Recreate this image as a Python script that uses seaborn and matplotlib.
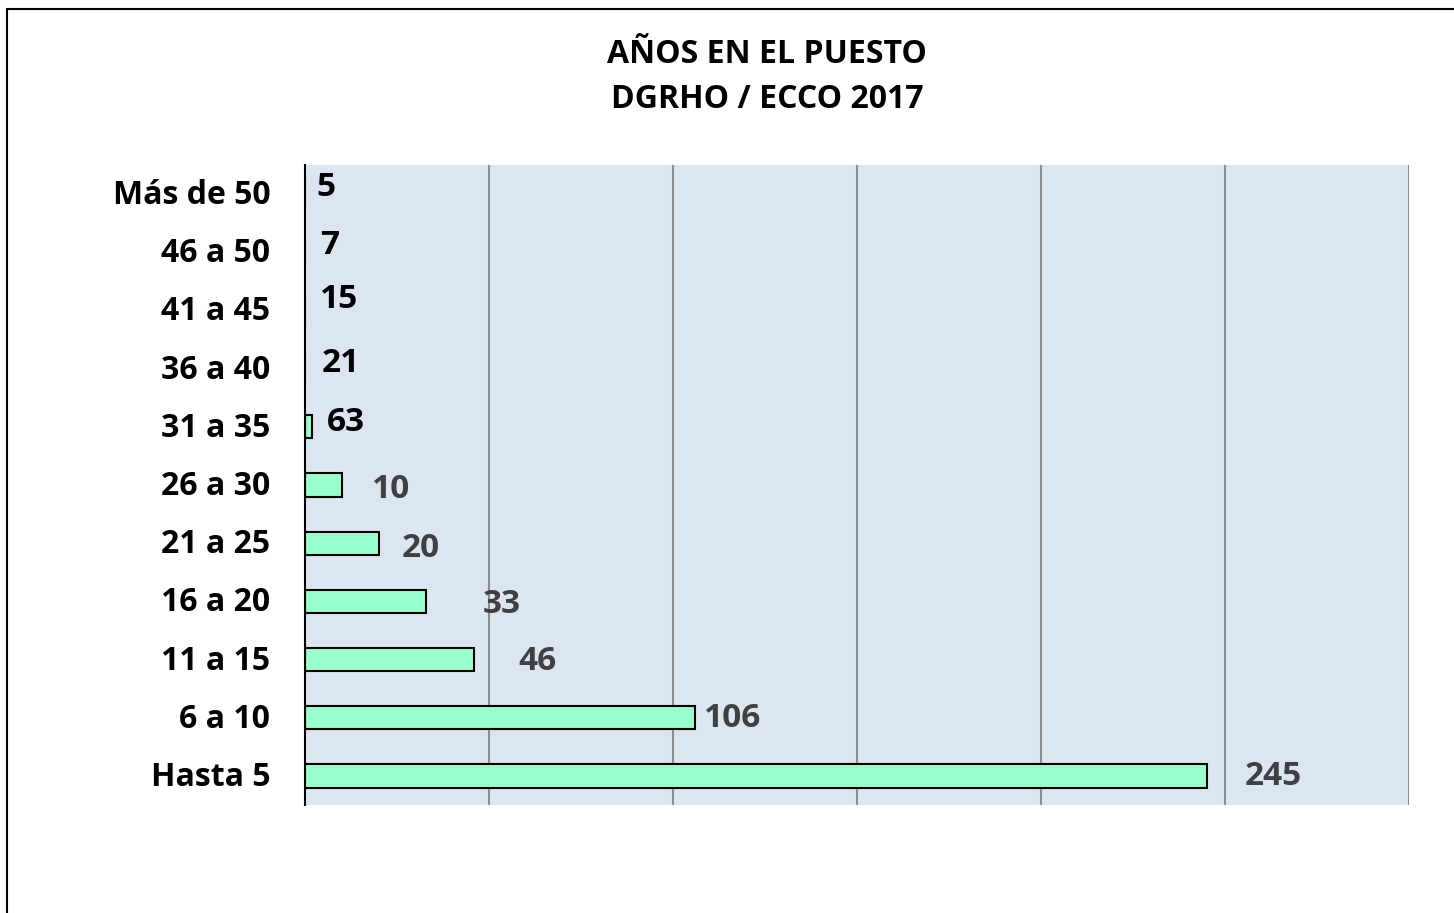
import matplotlib
matplotlib.use("Agg")
import matplotlib.pyplot as plt
import matplotlib.transforms as mtransforms
import seaborn as sns
import pandas as pd
from matplotlib.patches import Rectangle

categories = ["Más de 50", "46 a 50", "41 a 45", "36 a 40", "31 a 35", "26 a 30",
              "21 a 25", "16 a 20", "11 a 15", "6 a 10", "Hasta 5"]
bar_values = [0, 0, 0, 0, 2, 10, 20, 33, 46, 106, 245]
label_texts = ["5", "7", "15", "21", "63", "10", "20", "33", "46", "106", "245"]

# label placement tweaks (data units), kept separate from the data
label_dx = [3.0, 4.1, 4.1, 4.6, 4.0, 8.2, 6.4, 15.4, 11.9, 2.4, 10.4]
label_dy = [-0.11, -0.12, -0.19, -0.09, -0.07, 0.07, 0.09, 0.06, 0.04, 0.01, 0.01]
label_colors = ["black"] * 5 + ["#404040"] * 6

sns.set_theme(style="white")
plt.rcParams["font.family"] = ["Open Sans", "DejaVu Sans"]

df = pd.DataFrame({"cat": categories, "val": bar_values})

fig = plt.figure(figsize=(14.54, 9.13), dpi=100)
ax = fig.add_axes([305 / 1454, 1 - 805 / 913, (1409 - 305) / 1454, 640 / 913])
ax.set_facecolor("#DCE6F2")

sns.barplot(data=df, x="val", y="cat", orient="h", order=categories,
            color="#99FFCC", saturation=1, edgecolor="black", linewidth=1.5,
            width=0.4, ax=ax)

ax.set_xlim(0, 300)
ax.set_ylim(10.5, -0.5)
ax.set_xticks([50, 100, 150, 200, 250, 300])
ax.set_xticklabels([])
ax.tick_params(axis="x", length=0)
ax.tick_params(axis="y", length=0, pad=25)
ax.grid(axis="x", color="#8C8C8C", linewidth=1.5)
ax.grid(axis="y", visible=False)
ax.set_axisbelow(True)
ax.set_xlabel("")
ax.set_ylabel("")
for s in ["top", "right", "bottom"]:
    ax.spines[s].set_visible(False)
ax.spines["left"].set_color("black")
ax.spines["left"].set_linewidth(1.5)

shift_up = mtransforms.ScaledTranslation(0, 2.5 / 100, fig.dpi_scale_trans)
for lbl in ax.get_yticklabels():
    lbl.set_fontsize(23)
    lbl.set_fontweight("bold")
    lbl.set_color("black")
    lbl.set_transform(lbl.get_transform() + shift_up)

for i, (v, t) in enumerate(zip(bar_values, label_texts)):
    ax.text(v + label_dx[i], i + label_dy[i], t, ha="left", va="center",
            fontsize=24, fontweight="bold", color=label_colors[i])

fig.text(767 / 1454, 1 - 77 / 913, "AÑOS EN EL PUESTO\nDGRHO / ECCO 2017",
         ha="center", va="center", fontsize=23, fontweight="bold",
         color="black", linespacing=1.5)

fig.patches.append(Rectangle((7 / 1454, -0.05), 1.1, 1.05 - 9 / 913,
                             transform=fig.transFigure, fill=False,
                             edgecolor="black", linewidth=1.5))

fig.savefig("out.png", dpi=100)
